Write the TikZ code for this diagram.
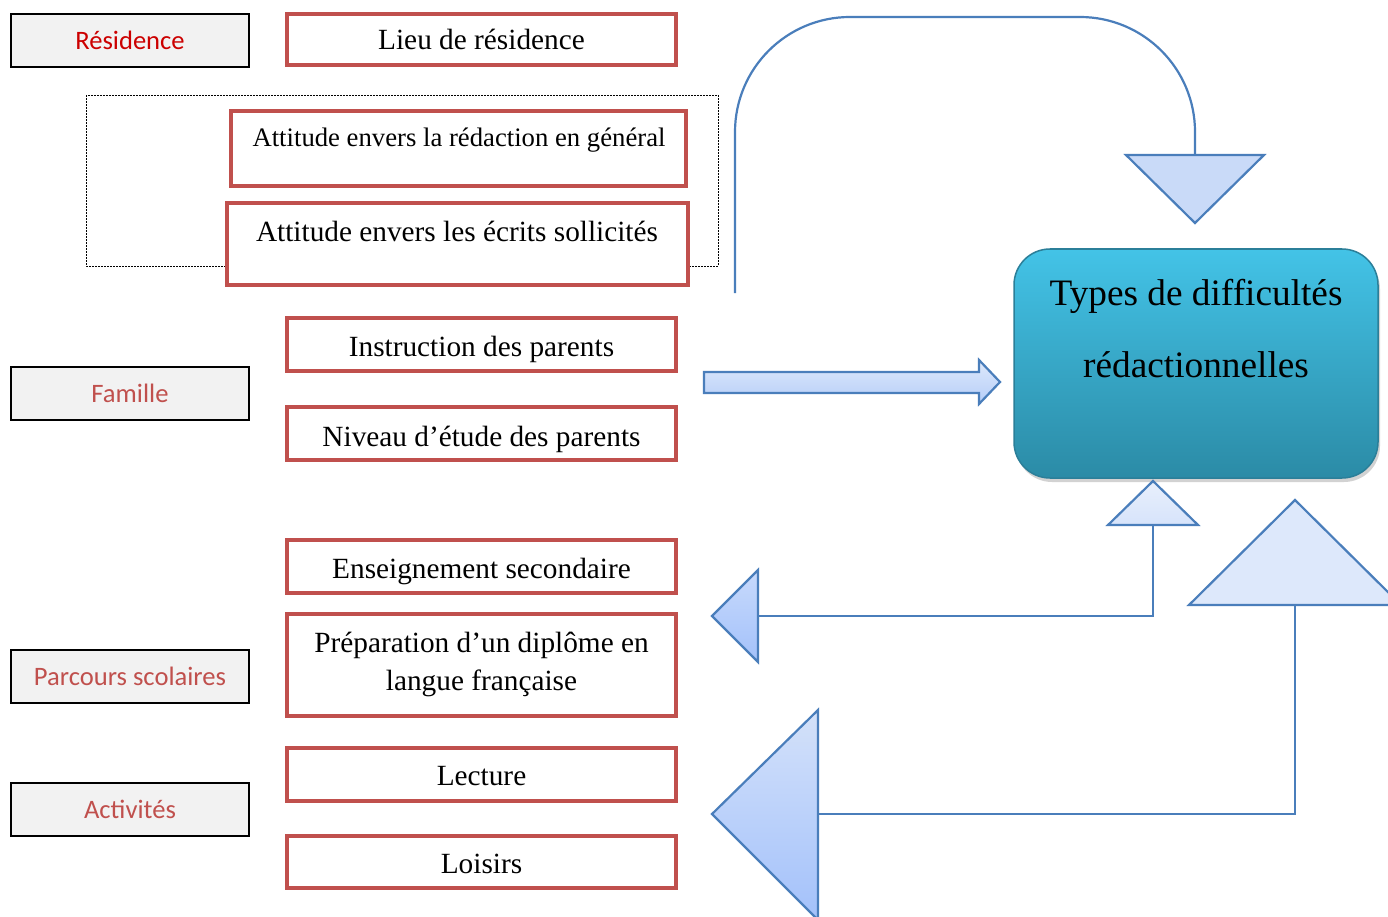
\documentclass[tikz,border=0pt]{standalone}
\usepackage{fontspec}
\setmainfont{Liberation Serif}
\newfontfamily\tnrfont{Liberation Serif}
\newfontfamily\calfont{Carlito}
\usetikzlibrary{shadows}
\definecolor{boxred}{HTML}{C0504D}
\definecolor{resred}{HTML}{CC0000}
\definecolor{grayfill}{HTML}{F2F2F2}
\definecolor{arrowblue}{HTML}{4A7EBB}
\definecolor{lightA}{HTML}{DFE9FB}
\definecolor{lightB}{HTML}{B4CDF8}
\definecolor{lightC}{HTML}{C9DAF8}
\definecolor{lightD}{HTML}{A3C1FA}
\definecolor{teallight}{HTML}{43C3E7}
\definecolor{tealdark}{HTML}{2B8BA6}
\definecolor{tealedge}{HTML}{2B7F99}
\begin{document}
\begin{tikzpicture}[x=1pt,y=-1pt,
  redbox/.style={draw=boxred, line width=4pt, fill=white, inner sep=0pt},
  graybox/.style={draw=black, line width=2pt, fill=grayfill, inner sep=0pt,
    minimum width=238pt, minimum height=53pt},
  graytext/.style={font=\calfont\fontsize{26.6}{30}\selectfont, text=boxred, inner sep=0pt, anchor=base},
  rtext/.style={font=\tnrfont\fontsize{29.3}{34}\selectfont, inner sep=0pt, anchor=base},
  stext/.style={font=\tnrfont\fontsize{26.7}{32}\selectfont, inner sep=0pt, anchor=base},
  btext/.style={font=\tnrfont\fontsize{37.3}{44}\selectfont, inner sep=0pt, anchor=base},
  conn/.style={draw=arrowblue, line width=2.2pt},
  tri/.style={draw=arrowblue, line width=2.2pt, line join=miter},
]
\useasboundingbox (0,0) rectangle (1388,917);
\clip (0,0) rectangle (1388,917);
\fill[white] (0,0) rectangle (1388,917);

% dashed frame
\draw[black, line width=0.8pt, dash pattern=on 2pt off 1pt] (86,95) rectangle (718,266);

% left category boxes
\node[graybox] (gres) at (130,40.5) {};
\node[graytext, text=resred] (tres) at (130,49.5) {Résidence};
\node[graybox] (gfam) at (130,393.5) {};
\node[graytext] (tfam) at (130,402.5) {Famille};
\node[graybox] (gpar) at (130,676.5) {};
\node[graytext] (tpar) at (130,685.5) {Parcours scolaires};
\node[graybox] (gact) at (130,809) {};
\node[graytext] (tact) at (130,818) {Activités};

% red boxes
\node[redbox, minimum width=389pt, minimum height=51pt] (blieu) at (481.5,39.5) {};
\node[rtext] (tlieu) at (481.5,50) {Lieu de résidence};
\node[redbox, minimum width=455pt, minimum height=75pt] (batt1) at (458.5,148.5) {};
\node[stext] (tatt1) at (459,147) {Attitude envers la rédaction en général};
\node[redbox, minimum width=461pt, minimum height=82pt] (batt2) at (457.5,244) {};
\node[rtext] (tatt2) at (457,241.5) {Attitude envers les écrits sollicités};
\node[redbox, minimum width=389pt, minimum height=53pt] (binst) at (481.5,344.5) {};
\node[rtext] (tinst) at (481.5,356) {Instruction des parents};
\node[redbox, minimum width=389pt, minimum height=53pt] (bniv) at (481.5,433.5) {};
\node[rtext] (tniv) at (481.5,446) {Niveau d’étude des parents};
\node[redbox, minimum width=389pt, minimum height=53pt] (bens) at (481.5,566.5) {};
\node[rtext] (tens) at (481.5,578.5) {Enseignement secondaire};
\node[redbox, minimum width=389pt, minimum height=102pt] (bprep) at (481.5,665) {};
\node[rtext] (tprep1) at (481.5,652.5) {Préparation d’un diplôme en};
\node[rtext] (tprep2) at (481.5,690.5) {langue française};
\node[redbox, minimum width=389pt, minimum height=53pt] (blec) at (481.5,774.5) {};
\node[rtext] (tlec) at (481.5,785.5) {Lecture};
\node[redbox, minimum width=389pt, minimum height=52pt] (bloi) at (481.5,862) {};
\node[rtext] (tloi) at (481.5,873.5) {Loisirs};

% main box
\node[draw=tealedge, line width=1.5pt, rounded corners=36pt, top color=teallight, bottom color=tealdark,
      minimum width=364pt, minimum height=229pt, inner sep=0pt,
      drop shadow={opacity=0.35, shadow xshift=2pt, shadow yshift=-4pt}] (main) at (1196,363.5) {};
\node[btext] (tmain1) at (1196,305) {Types de difficultés};
\node[btext] (tmain2) at (1196,377) {rédactionnelles};

% connector coordinates
\coordinate (cstart) at (735,293);
\coordinate (ctop) at (1195,17);
\coordinate (tdTop) at (1195,155);
\coordinate (tu1base) at (1153,525);
\coordinate (tl1base) at (758,616);
\coordinate (tu2base) at (1295,605);
\coordinate (tl2base) at (818,814);

% connectors
\draw[conn, rounded corners=115pt] (cstart) |- (ctop) -- (tdTop);
\draw[conn] (tu1base) |- (tl1base);
\draw[conn] (tu2base) |- (tl2base);

% block arrow to main box
\draw[tri, top color=lightA, bottom color=lightB]
  (704,372) -- (979,372) -- (979,360) -- (1000,382) -- (979,404) -- (979,393) -- (704,393) -- cycle;

% triangle heads
\draw[tri, fill=lightC] (1126,155) -- (1264,155) -- (1195,223) -- cycle;
\draw[tri, top color=lightA!70!white, bottom color=lightA!80!lightB] (1153,481) -- (1198,525) -- (1108,525) -- cycle;
\draw[tri, top color=lightD!60!white, bottom color=lightD] (758,570) -- (758,662) -- (712,616) -- cycle;
\draw[tri, fill=lightA!95!lightB] (1295,500) -- (1401,605) -- (1189,605) -- cycle;
\draw[tri, top color=lightC!80!white, bottom color=lightD] (818,710) -- (818,920) -- (712,814) -- cycle;
\end{tikzpicture}
\end{document}
